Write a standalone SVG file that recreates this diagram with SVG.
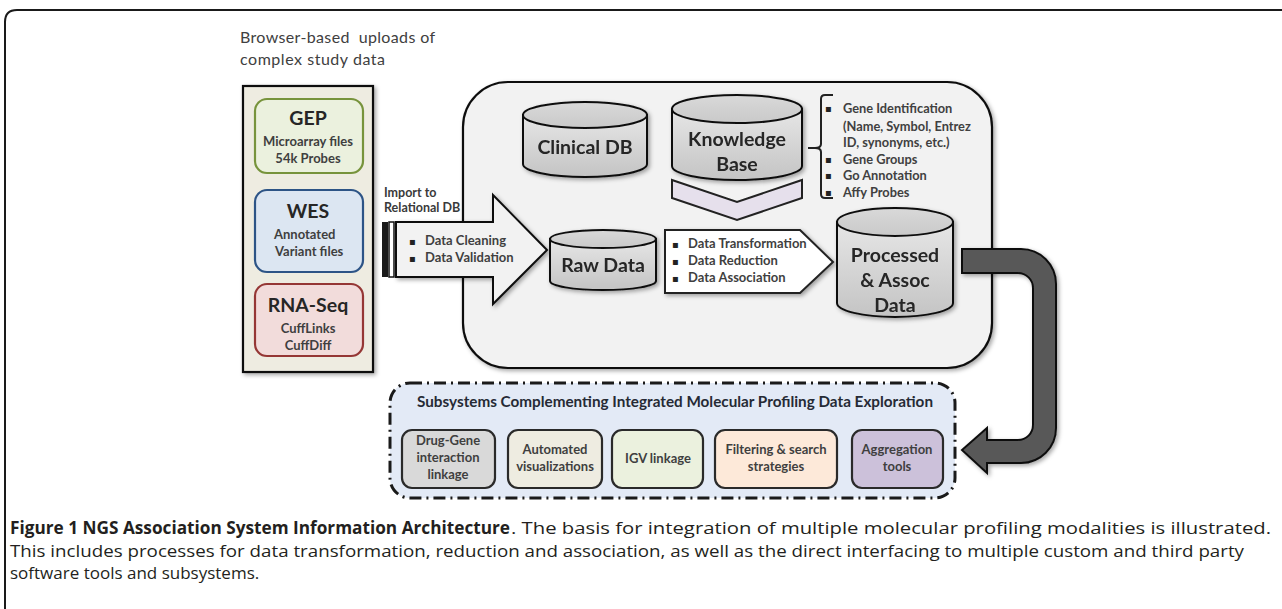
<svg xmlns="http://www.w3.org/2000/svg" width="1282" height="609" viewBox="0 0 1282 609">
<defs>
<filter id="sh" x="-10%" y="-10%" width="130%" height="130%">
<feDropShadow dx="2" dy="2" stdDeviation="2" flood-color="#000" flood-opacity="0.35"/>
</filter>
<linearGradient id="cyl" x1="0" y1="0" x2="0" y2="1">
<stop offset="0" stop-color="#e6e6e6"/>
<stop offset="1" stop-color="#c4c4c4"/>
</linearGradient>
<linearGradient id="cyltop" x1="0" y1="0" x2="0" y2="1">
<stop offset="0" stop-color="#d9d9d9"/>
<stop offset="1" stop-color="#c9c9c9"/>
</linearGradient>
</defs>
<style>
text{font-family:Lato,"Liberation Sans",sans-serif;}
.b{font-weight:bold;}
.big{font-size:19.5px;font-weight:bold;fill:#262626;text-anchor:middle;}
.box{stroke-width:2.2;}
.sm{font-size:13px;font-weight:bold;fill:#3f3f3f;}
.smc{font-size:13px;font-weight:bold;fill:#3f3f3f;text-anchor:middle;}
.lst{font-size:12.8px;font-weight:bold;fill:#404040;}
.bul{font-family:"DejaVu Sans",sans-serif;font-size:10px;fill:#222;}
.cylb{fill:url(#cyl);stroke:#111;stroke-width:2;}
.cylt{fill:url(#cyltop);stroke:#111;stroke-width:2;}
.sub{stroke:#2a2a2a;stroke-width:2.2;}
.cap{font-family:"Open Sans","Liberation Sans",sans-serif;font-size:17px;fill:#231f20;}
</style>
<rect width="1282" height="609" fill="#fff"/>
<path d="M5,609 L5,22 Q5,10 17,10 L1282,10" fill="none" stroke="#1a1a1a" stroke-width="2"/>

<g id="upload-title">
<text x="240" y="43" font-size="16" fill="#404040" textLength="195" style="white-space:pre">Browser-based  uploads of</text>
<text x="240" y="65" font-size="16" fill="#404040" textLength="145">complex study data</text>
</g>

<g id="upload-panel">
<rect x="243" y="86" width="130" height="286" fill="#eeece1" stroke="#111" stroke-width="2.2" filter="url(#sh)"/>
</g>
<g id="gep">
<rect x="255" y="99" width="108" height="74" rx="12" fill="#ebf1de" stroke="#77933c" class="box"/>
<text x="308" y="125" class="big" font-size="19">GEP</text>
<text x="308" y="146" class="smc">Microarray files</text>
<text x="308" y="163" class="smc">54k Probes</text>
</g>
<g id="wes">
<rect x="255" y="190" width="108" height="82" rx="12" fill="#dce6f2" stroke="#2d5486" class="box"/>
<text x="308" y="218" class="big" font-size="19">WES</text>
<text x="274" y="239" class="sm">Annotated</text>
<text x="275" y="256" class="sm">Variant files</text>
</g>
<g id="rnaseq">
<rect x="255" y="284" width="108" height="72" rx="12" fill="#f2dcdb" stroke="#953735" class="box"/>
<text x="308" y="312" class="big" font-size="19">RNA-Seq</text>
<text x="308" y="333" class="smc">CuffLinks</text>
<text x="308" y="350" class="smc">CuffDiff</text>
</g>

<g id="process-container">
<rect x="463" y="82" width="529" height="286" rx="45" fill="#f2f2f2" stroke="#111" stroke-width="2.2" filter="url(#sh)"/>
</g>

<g id="import">
<text x="384" y="197" font-size="12.5" class="b" fill="#3a3a3a">Import to</text>
<text x="384" y="212" font-size="12.5" class="b" fill="#3a3a3a">Relational DB</text>
<rect x="382" y="222" width="6" height="55" fill="#1a1a1a"/>
<rect x="389" y="222" width="5" height="55" fill="#fff" stroke="#111" stroke-width="1.5"/>
<path d="M396,222 L493,222 L493,195 L547,250 L493,304 L493,277 L396,277 Z" fill="#f2f2f2" stroke="#111" stroke-width="2" filter="url(#sh)"/>
<text x="409" y="245" class="bul">▪</text>
<text x="425" y="245" class="sm">Data Cleaning</text>
<text x="409" y="262" class="bul">▪</text>
<text x="425" y="262" class="sm">Data Validation</text>
</g>

<g id="clinical-db" filter="url(#sh)">
<path d="M523,115 L523,164 A62,13 0 0 0 647,164 L647,115 Z" class="cylb"/>
<ellipse cx="585" cy="115" rx="62" ry="13" class="cylt"/>
<text x="585" y="154" class="big">Clinical DB</text>
</g>

<g id="knowledge-base" filter="url(#sh)">
<path d="M672,109 L672,166 A65,14 0 0 0 802,166 L802,109 Z" class="cylb"/>
<ellipse cx="737" cy="109" rx="65" ry="14" class="cylt"/>
<text x="737" y="146" class="big">Knowledge</text>
<text x="737" y="171" class="big">Base</text>
</g>

<g id="knowledge-list">
<text x="825" y="112" class="bul">▪</text><text x="843" y="113" class="lst">Gene Identification</text>
<text x="843" y="131" class="lst">(Name, Symbol, Entrez</text>
<text x="843" y="147" class="lst">ID, synonyms, etc.)</text>
<text x="825" y="163" class="bul">▪</text><text x="843" y="164" class="lst">Gene Groups</text>
<text x="825" y="179" class="bul">▪</text><text x="843" y="180" class="lst">Go Annotation</text>
<text x="825" y="196" class="bul">▪</text><text x="843" y="197" class="lst">Affy Probes</text>
</g>

<g id="raw-data" filter="url(#sh)">
<path d="M550,239 L550,281 A53,9 0 0 0 656,281 L656,239 Z" class="cylb"/>
<ellipse cx="603" cy="239" rx="53" ry="9" class="cylt"/>
<text x="603" y="272" class="big">Raw Data</text>
</g>

<g id="transform">
<path d="M665,230 L800,230 L833,262 L800,293 L665,293 Z" fill="#fff" stroke="#222" stroke-width="2" filter="url(#sh)"/>
<text x="672" y="248" class="bul">▪</text><text x="688" y="248" class="sm">Data Transformation</text>
<text x="672" y="265" class="bul">▪</text><text x="688" y="265" class="sm">Data Reduction</text>
<text x="672" y="282" class="bul">▪</text><text x="688" y="282" class="sm">Data Association</text>
</g>

<g id="processed-data" filter="url(#sh)">
<path d="M837,222 L837,303 A58,14 0 0 0 953,303 L953,222 Z" class="cylb"/>
<ellipse cx="895" cy="222" rx="58" ry="14" class="cylt"/>
<text x="895" y="262" class="big">Processed</text>
<text x="895" y="287" class="big">&amp; Assoc</text>
<text x="895" y="312" class="big">Data</text>
</g>

<g id="connectors">
<path d="M672,180 L737,202 L802,180 L802,198 L737,220 L672,198 Z" fill="#e6e0ec" stroke="#222" stroke-width="2"/>
<path d="M833,95 L825,95 Q821,95 821,99 L821,144 Q821,148 815,148 L808,148 M815,148 Q821,148 821,152 L821,194 Q821,198 825,198 L833,198" fill="none" stroke="#222" stroke-width="2"/>
<path d="M962,249 L1021,249 A35,35 0 0 1 1056,284 L1056,428 A35,35 0 0 1 1021,463 L987,463 L987,473 L962,450 L987,428 L987,440 L1018,440 A15,15 0 0 0 1033,425 L1033,288 A15,15 0 0 0 1018,273 L962,273 Z" fill="#595959" stroke="#111" stroke-width="2" filter="url(#sh)"/>
</g>

<g id="subsystems">
<rect x="390" y="383" width="565" height="115" rx="20" fill="#e3eaf6" stroke="#1a1a1a" stroke-width="3" stroke-dasharray="12 5 2 5"/>
<text x="417" y="407" font-size="14.5" class="b" fill="#262a35" textLength="516" lengthAdjust="spacingAndGlyphs">Subsystems Complementing Integrated Molecular Profiling Data Exploration</text>
</g>
<g id="drug-gene">
<rect x="402" y="430" width="93" height="58" rx="10" fill="#d9d9d9" class="sub"/>
<text x="448" y="445" class="smc">Drug-Gene</text>
<text x="448" y="462" class="smc">interaction</text>
<text x="448" y="479" class="smc">linkage</text>
</g>
<g id="automated">
<rect x="508" y="430" width="94" height="58" rx="10" fill="#eeece1" class="sub"/>
<text x="555" y="454" class="smc">Automated</text>
<text x="555" y="471" class="smc">visualizations</text>
</g>
<g id="igv">
<rect x="612" y="430" width="91" height="58" rx="10" fill="#ebf1de" class="sub"/>
<text x="658" y="463" class="smc">IGV linkage</text>
</g>
<g id="filtering">
<rect x="715" y="430" width="122" height="58" rx="10" fill="#fde9d9" class="sub"/>
<text x="776" y="454" class="smc">Filtering &amp; search</text>
<text x="776" y="471" class="smc">strategies</text>
</g>
<g id="aggregation">
<rect x="852" y="430" width="91" height="58" rx="10" fill="#ccc1da" class="sub"/>
<text x="897" y="454" class="smc">Aggregation</text>
<text x="897" y="471" class="smc">tools</text>
</g>

<g id="caption">
<text x="10" y="534" class="cap" font-weight="bold" textLength="500" lengthAdjust="spacingAndGlyphs">Figure 1 NGS Association System Information Architecture</text>
<text x="511" y="534" class="cap" textLength="760" lengthAdjust="spacingAndGlyphs">. The basis for integration of multiple molecular profiling modalities is illustrated.</text>
<text x="10" y="557" class="cap" textLength="1234" lengthAdjust="spacingAndGlyphs">This includes processes for data transformation, reduction and association, as well as the direct interfacing to multiple custom and third party</text>
<text x="10" y="579" class="cap">software tools and subsystems.</text>
</g>
</svg>
